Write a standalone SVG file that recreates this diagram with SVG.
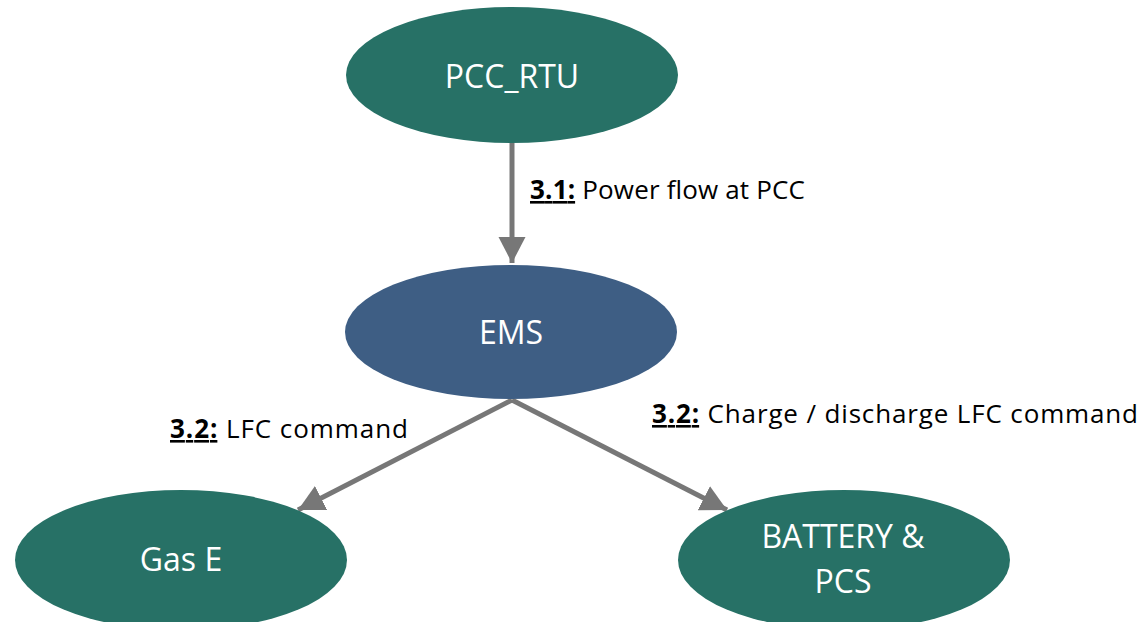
<svg xmlns="http://www.w3.org/2000/svg" width="1144" height="622" viewBox="0 0 1144 622">
<style>
.green{fill:#277166}
.blue{fill:#3e5e84}
.nt{font-family:"Open Sans","Noto Sans",sans-serif;font-size:32px;fill:#ffffff;text-anchor:middle}
.lbl{font-family:"Open Sans","Noto Sans",sans-serif;font-size:26px;fill:#000000}
.num{font-weight:bold;text-decoration:underline}
.conn{stroke:#777777;stroke-width:5;fill:none}
</style>
<defs>
<marker id="ah" markerUnits="userSpaceOnUse" markerWidth="30" markerHeight="30" refX="26" refY="13.5" orient="auto">
<path d="M0,0 L26,13.5 L0,27 Z" fill="#777777"/>
</marker>
</defs>
<rect width="1144" height="622" fill="#ffffff"/>
<g id="connectors">
<line class="conn" x1="512" y1="143" x2="512" y2="263" marker-end="url(#ah)"/>
<line class="conn" x1="512" y1="400" x2="298" y2="510" marker-end="url(#ah)"/>
<line class="conn" x1="512" y1="400" x2="727" y2="510" marker-end="url(#ah)"/>
</g>
<g id="node-pcc-rtu">
<ellipse class="green" cx="512" cy="75" rx="166" ry="68"/>
<text class="nt" x="512" y="88">PCC_RTU</text>
</g>
<g id="node-ems">
<ellipse class="blue" cx="511" cy="332" rx="166" ry="67"/>
<text class="nt" x="511" y="344">EMS</text>
</g>
<g id="node-gas-e">
<ellipse class="green" cx="181" cy="560" rx="166" ry="70"/>
<text class="nt" x="181" y="571">Gas E</text>
</g>
<g id="node-battery">
<ellipse class="green" cx="844" cy="560" rx="166" ry="70"/>
<text class="nt" x="843" y="548">BATTERY &amp;</text>
<text class="nt" x="843" y="593">PCS</text>
</g>
<g id="labels">
<text class="lbl" x="530" y="199" textLength="275" lengthAdjust="spacing"><tspan class="num">3.1:</tspan> Power flow at PCC</text>
<text class="lbl" x="170" y="438" textLength="238" lengthAdjust="spacing"><tspan class="num">3.2:</tspan> LFC command</text>
<text class="lbl" x="652" y="423" textLength="486" lengthAdjust="spacing"><tspan class="num">3.2:</tspan> Charge / discharge LFC command</text>
</g>
</svg>
